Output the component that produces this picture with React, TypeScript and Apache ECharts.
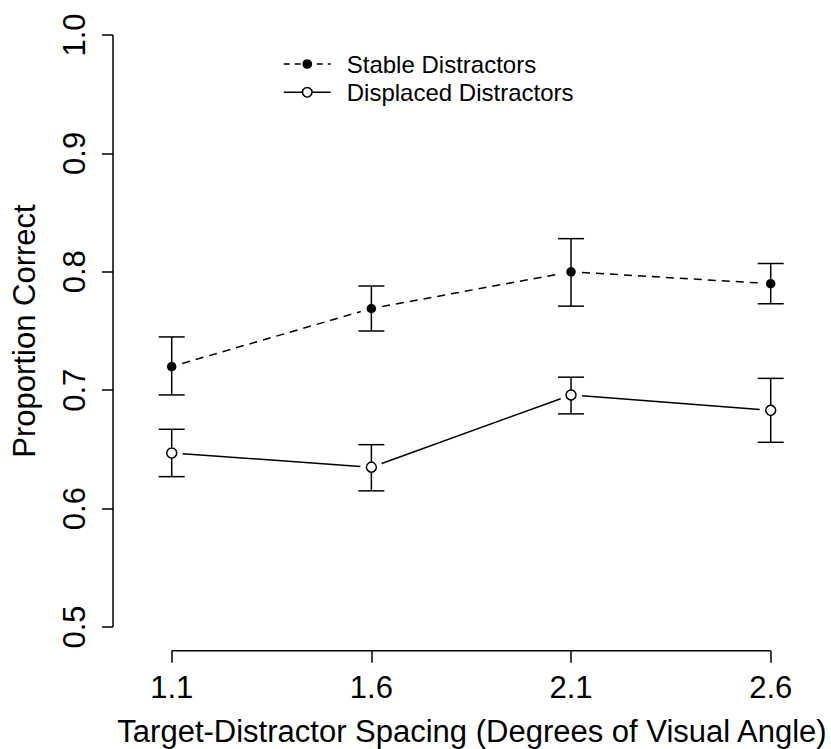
import React, { useEffect, useRef } from "react";
import * as echarts from "echarts";

// ---- data ----
const spacing = [1.1, 1.6, 2.1, 2.6];
const stableMean = [0.72, 0.769, 0.8, 0.79];
const stableLow = [0.696, 0.75, 0.771, 0.773];
const stableHigh = [0.745, 0.788, 0.828, 0.807];
const displacedMean = [0.647, 0.635, 0.696, 0.683];
const displacedLow = [0.627, 0.615, 0.68, 0.656];
const displacedHigh = [0.667, 0.654, 0.711, 0.71];
const xTicks = [1.1, 1.6, 2.1, 2.6];
const yTicks = [0.5, 0.6, 0.7, 0.8, 0.9, 1.0];
const seriesNames = ["Stable Distractors", "Displaced Distractors"];
const xTitle = "Target-Distractor Spacing (Degrees of Visual Angle)";
const yTitle = "Proportion Correct";

// axis ranges (R-like padding)
const X_MIN = 0.953;
const X_MAX = 2.751;
const Y_MIN = 0.48;
const Y_MAX = 1.02;

const FONT = "'Liberation Sans', Arial, Helvetica, sans-serif";
const LW = 1.5;
const GAP = 11;
const CAP = 13;
const DASH = [8, 6];

function segments(means: number[]) {
  return spacing.slice(0, -1).map((x, i) => [x, means[i], spacing[i + 1], means[i + 1]]);
}

function errData(low: number[], high: number[]) {
  return spacing.map((x, i) => [x, low[i], high[i]]);
}

function connectSeries(means: number[], dashed: boolean) {
  return {
    type: "custom",
    silent: true,
    clip: false,
    encode: { x: [0, 2], y: [1, 3] },
    data: segments(means),
    renderItem: (params: any, api: any) => {
      const a = api.coord([api.value(0), api.value(1)]);
      const b = api.coord([api.value(2), api.value(3)]);
      const dx = b[0] - a[0];
      const dy = b[1] - a[1];
      const len = Math.hypot(dx, dy) || 1;
      const ux = dx / len;
      const uy = dy / len;
      return {
        type: "line",
        shape: {
          x1: a[0] + ux * GAP,
          y1: a[1] + uy * GAP,
          x2: b[0] - ux * GAP,
          y2: b[1] - uy * GAP,
        },
        style: {
          stroke: "#000",
          lineWidth: LW,
          lineDash: dashed ? DASH : null,
        },
      };
    },
    z: 2,
  };
}

function errSeries(low: number[], high: number[]) {
  return {
    type: "custom",
    silent: true,
    clip: false,
    encode: { x: 0, y: [1, 2] },
    data: errData(low, high),
    renderItem: (params: any, api: any) => {
      const lo = api.coord([api.value(0), api.value(1)]);
      const hi = api.coord([api.value(0), api.value(2)]);
      const st = { stroke: "#000", lineWidth: LW };
      return {
        type: "group",
        children: [
          { type: "line", shape: { x1: lo[0], y1: lo[1], x2: hi[0], y2: hi[1] }, style: st },
          { type: "line", shape: { x1: lo[0] - CAP, y1: lo[1], x2: lo[0] + CAP, y2: lo[1] }, style: st },
          { type: "line", shape: { x1: hi[0] - CAP, y1: hi[1], x2: hi[0] + CAP, y2: hi[1] }, style: st },
        ],
      };
    },
    z: 2,
  };
}

function axisLineSeries() {
  return {
    type: "custom",
    silent: true,
    clip: false,
    encode: { x: [0, 2], y: [1, 3] },
    data: [
      [xTicks[0], Y_MIN, xTicks[xTicks.length - 1], Y_MIN],
      [X_MIN, yTicks[0], X_MIN, yTicks[yTicks.length - 1]],
    ],
    renderItem: (params: any, api: any) => {
      const a = api.coord([api.value(0), api.value(1)]);
      const b = api.coord([api.value(2), api.value(3)]);
      return {
        type: "line",
        shape: { x1: a[0], y1: a[1], x2: b[0], y2: b[1] },
        style: { stroke: "#000", lineWidth: LW },
      };
    },
    z: 1,
  };
}

export default function App() {
  const ref = useRef<HTMLDivElement>(null);

  useEffect(() => {
    if (!ref.current) return;
    const chart = echarts.init(ref.current, null, { renderer: "svg" });
    const option: any = {
      animation: false,
      backgroundColor: "#fff",
      textStyle: { fontFamily: FONT, color: "#000" },
      grid: {
        left: 113,
        right: 0,
        top: 11.3,
        bottom: 98.3,
        containLabel: false,
        outerBoundsMode: "none",
      },
      legend: {
        orient: "vertical",
        left: 278,
        top: 45,
        itemWidth: 47,
        itemHeight: 12,
        itemGap: 0.3,
        selectedMode: false,
        textStyle: {
          fontFamily: FONT,
          fontSize: 24,
          color: "#000",
          lineHeight: 28,
          padding: [0, 0, 0, 11],
        },
        data: [
          {
            name: seriesNames[0],
            lineStyle: { width: LW, type: [6, 5], color: "#000", opacity: 1 },
            itemStyle: { color: "#000", borderWidth: 0 },
          },
          {
            name: seriesNames[1],
            lineStyle: { width: LW, type: "solid", color: "#000", opacity: 1 },
            itemStyle: { color: "#fff", borderColor: "#000", borderWidth: LW },
          },
        ],
      },
      xAxis: {
        type: "value",
        min: X_MIN,
        max: X_MAX,
        name: xTitle,
        nameLocation: "middle",
        nameGap: 65,
        nameTextStyle: { fontFamily: FONT, fontSize: 31, color: "#000" },
        axisLine: { show: false },
        splitLine: { show: false },
        axisTick: {
          show: true,
          length: 12,
          customValues: xTicks,
          lineStyle: { color: "#000", width: LW },
        },
        axisLabel: {
          customValues: xTicks,
          margin: 21,
          fontFamily: FONT,
          fontSize: 31,
          color: "#000",
          formatter: (v: number) => v.toFixed(1),
        },
      },
      yAxis: {
        type: "value",
        min: Y_MIN,
        max: Y_MAX,
        name: yTitle,
        nameLocation: "middle",
        nameGap: 73,
        nameRotate: 90,
        nameTextStyle: { fontFamily: FONT, fontSize: 31, color: "#000" },
        axisLine: { show: false },
        splitLine: { show: false },
        axisTick: {
          show: true,
          length: 11,
          customValues: yTicks,
          lineStyle: { color: "#000", width: LW },
        },
        axisLabel: {
          customValues: yTicks,
          rotate: 90,
          margin: 23,
          fontFamily: FONT,
          fontSize: 31,
          color: "#000",
          formatter: (v: number) => v.toFixed(1),
        },
      },
      series: [
        axisLineSeries(),
        errSeries(stableLow, stableHigh),
        errSeries(displacedLow, displacedHigh),
        connectSeries(stableMean, true),
        connectSeries(displacedMean, false),
        {
          type: "line",
          name: seriesNames[0],
          data: spacing.map((x, i) => [x, stableMean[i]]),
          symbol: "circle",
          symbolSize: 9.5,
          showSymbol: true,
          lineStyle: { width: 0, opacity: 0 },
          itemStyle: { color: "#000", borderWidth: 0 },
          z: 5,
        },
        {
          type: "line",
          name: seriesNames[1],
          data: spacing.map((x, i) => [x, displacedMean[i]]),
          symbol: "circle",
          symbolSize: 10,
          showSymbol: true,
          lineStyle: { width: 0, opacity: 0 },
          itemStyle: { color: "#fff", borderColor: "#000", borderWidth: LW },
          z: 5,
        },
      ],
    };
    chart.setOption(option);
    return () => chart.dispose();
  }, []);

  return (
    <div
      ref={ref}
      style={{ position: "absolute", left: 0, top: 0, width: 831, height: 749, background: "#fff" }}
    />
  );
}
